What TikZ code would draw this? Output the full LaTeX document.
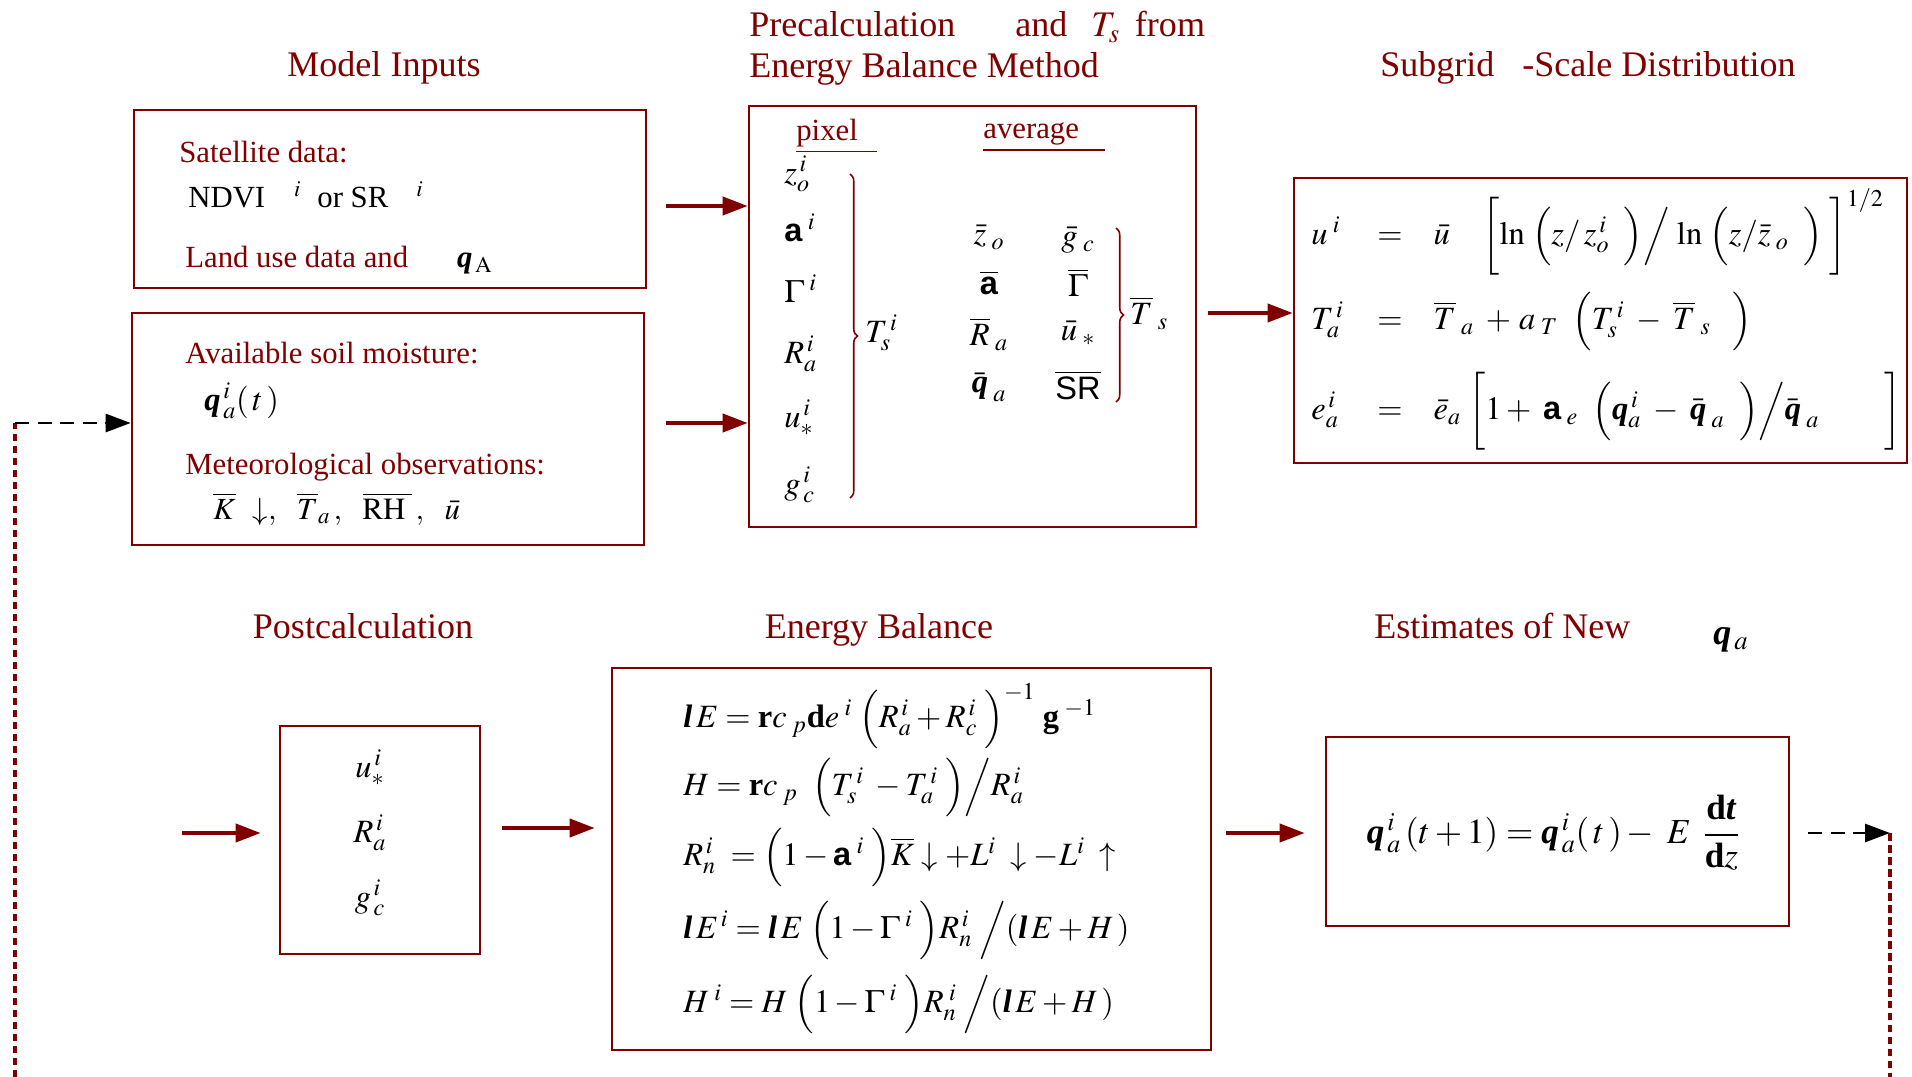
\documentclass[tikz,border=0pt]{standalone}
\usepackage{amsmath}
\usepackage{mathptmx}
\usepackage{fontspec}
\setmainfont{Liberation Serif}
\setsansfont{Liberation Sans}
\usetikzlibrary{arrows.meta,decorations.pathreplacing}
\definecolor{flowred}{HTML}{800000}
\newcommand{\bq}{\textbf{\textit{q}}}
\newcommand{\sfa}{\textsf{\textbf{a}}}
\newcommand{\bfl}{\textbf{\textit{l}}}
\newcommand{\eqlhs}[1]{\makebox[1.32cm][l]{$#1$}}
\tikzset{
  flow box/.style={
    rectangle, draw=flowred, line width=1.5pt, inner sep=0pt
  },
  flow title/.style={
    text=flowred, font=\fontsize{20.5}{24}\selectfont, inner sep=0pt
  },
  flow text/.style={font=\fontsize{17.5}{21}\selectfont, inner sep=0pt},
  flow label/.style={flow text, text=flowred},
  flow math/.style={font=\fontsize{18.5}{22}\selectfont, inner sep=0pt},
  flow arrow/.style={
    draw=flowred, line width=2.2pt,
    -{Triangle[length=0.5cm,width=0.36cm]}
  },
  feedback line/.style={
    draw=flowred, line width=2pt, dash pattern=on 0.15cm off 0.09cm
  },
  feedback arrow/.style={
    draw=black, line width=1.6pt, dash pattern=on 0.28cm off 0.17cm,
    -{Triangle[length=0.5cm,width=0.36cm]}
  },
  split brace/.style={
    draw=flowred, line width=0.9pt, decorate,
    decoration={brace, amplitude=0.15cm}
  }
}

\begin{document}
\begin{tikzpicture}
  \useasboundingbox (0,0) rectangle (38.24,-21.54);

  % titles
  \node[flow title, anchor=base] (intitle) at (7.68,-1.54) {Model Inputs};
  \node[flow title, anchor=base west] (pretitle) at (14.98,-0.74)
    {Precalculation\hspace{1.2cm}and\hspace{0.48cm}$T_{s}$\hspace{0.3cm}from};
  \node[flow title, anchor=base west] (pretitleb) at (14.98,-1.56) {Energy Balance Method};
  \node[flow title, anchor=base west] (subtitle) at (27.6,-1.54) {Subgrid\hspace{0.56cm}-Scale Distribution};
  \node[flow title, anchor=base] (posttitle) at (7.26,-12.76) {Postcalculation};
  \node[flow title, anchor=base] (ebtitle) at (17.58,-12.76) {Energy Balance};
  \node[flow title, anchor=base west] (newtitle) at (27.48,-12.76)
    {Estimates of New\hspace{1.66cm}\raisebox{-0.12cm}{\textcolor{black}{\bq$_{\,a}$}}};

  % boxes
  \node[flow box, minimum width=10.24cm, minimum height=3.56cm] (inputs) at (7.8,-3.98) {};
  \node[flow box, minimum width=10.24cm, minimum height=4.64cm] (soil) at (7.76,-8.58) {};
  \node[flow box, minimum width=8.94cm, minimum height=8.42cm] (pre) at (19.45,-6.33) {};
  \node[flow box, minimum width=12.26cm, minimum height=5.7cm] (sub) at (32.01,-6.41) {};
  \node[flow box, minimum width=4cm, minimum height=4.56cm] (post) at (7.6,-16.8) {};
  \node[flow box, minimum width=11.98cm, minimum height=7.64cm] (eb) at (18.23,-17.18) {};
  \node[flow box, minimum width=9.26cm, minimum height=3.78cm] (new) at (31.15,-16.63) {};

  % model inputs
  \node[flow label, anchor=base west] (satlabel) at (3.58,-3.26) {Satellite data:};
  \node[flow text, anchor=base west] (satdata) at (3.76,-4.16)
    {NDVI\hspace{0.58cm}$^{i}$\hspace{0.32cm}or SR\hspace{0.56cm}$^{i}$};
  \node[flow label, anchor=base west] (landlabel) at (3.7,-5.36)
    {Land use data and\hspace{0.98cm}\textcolor{black}{\bq$_{\,\mathrm{A}}$}};
  \node[flow label, anchor=base west] (soillabel) at (3.7,-7.26) {Available soil moisture:};
  \node[flow math, anchor=base west] (soildata) at (4.08,-8.2) {$\bq_{\,a}^{\,i}(\,t\,)$};
  \node[flow label, anchor=base west] (metlabel) at (3.7,-9.48) {Meteorological observations:};
  \node[flow text, anchor=base west] (metdata) at (4.26,-10.38)
    {$\overline{K}\;\,\downarrow,\;\;\,\overline{T}_{a}\,,\;\;\,\overline{\mathrm{RH}\;}\,,\;\;\,\bar{u}$};

  % precalculation
  \node[flow label, anchor=base west] (pixhead) at (15.92,-2.82) {\underline{pixel\hspace{0.38cm}}};
  \node[flow label, anchor=base west] (avghead) at (19.66,-2.78) {\underline{average\hspace{0.52cm}}};
  \node[flow math, anchor=west] (zpix) at (15.68,-3.48) {$z_o^{\,i}$};
  \node[flow math, anchor=west] (apix) at (15.68,-4.56) {$\sfa^{\;i}$};
  \node[flow math, anchor=west] (gpix) at (15.68,-5.78) {$\Gamma^{\;i}$};
  \node[flow math, anchor=west] (rpix) at (15.68,-7.08) {$R_a^{\,i}$};
  \node[flow math, anchor=west] (upix) at (15.68,-8.36) {$u_*^{\,i}$};
  \node[flow math, anchor=west] (cpix) at (15.68,-9.7) {$g_{\,c}^{\,i}$};
  \draw[split brace] (17.0,-3.48) -- (17.0,-9.96);
  \node[flow math, anchor=west] (tpix) at (17.3,-6.66) {$T_s^{\,i}$};

  \node[flow math] (zavg) at (19.78,-4.75) {$\bar{z}_{\;o}$};
  \node[flow math] (aavg) at (19.78,-5.65) {$\overline{\sfa}$};
  \node[flow math] (ravg) at (19.78,-6.68) {$\overline{R}_{\;a}$};
  \node[flow math] (qavg) at (19.78,-7.74) {$\bar{\bq}_{\;a}$};
  \node[flow math] (gavg) at (21.56,-4.8) {$\bar{g}_{\;c}$};
  \node[flow math] (Gavg) at (21.56,-5.65) {$\overline{\Gamma}$};
  \node[flow math] (uavg) at (21.56,-6.66) {$\bar{u}_{\;*}$};
  \node[flow math] (savg) at (21.56,-7.7) {$\overline{\textsf{SR}}$};
  \draw[split brace] (22.32,-4.56) -- (22.32,-8.04);
  \node[flow math, anchor=west] (tavg) at (22.6,-6.26) {$\overline{T}_{\;s}$};

  % subgrid distribution
  \node[flow math, anchor=west] (subu) at (26.22,-4.64)
    {\eqlhs{u^{\;i}}$=$\hspace{0.62cm}$\bar{u}\quad\biggl[\ln\;\Bigl(z/\,z_o^{\,i}\;\;\Bigr)\Big/\,\ln\;\Bigl(z/\bar{z}_{\;o}\;\;\Bigr)\;\biggr]^{1/2}$};
  \node[flow math, anchor=west] (subt) at (26.22,-6.42)
    {\eqlhs{T_a^{\,i}}$=$\hspace{0.62cm}$\overline{T}_{\;a}\;+\,a_{\;T}\;\;\Bigl(T_s^{\,i}\;-\;\overline{T}_{\;s}\;\;\;\Bigr)$};
  \node[flow math, anchor=west] (sube) at (26.22,-8.22)
    {\eqlhs{e_a^{\,i}}$=$\hspace{0.62cm}$\bar{e}_a\;\biggl[1 + \;\sfa_{\;e}\;\;\Bigl(\bq_a^{\,i}\;-\;\bar{\bq}_{\;a}\;\;\Bigr)\Big/\bar{\bq}_{\;a}\qquad\biggr]$};

  % postcalculation
  \node[flow math] (postu) at (7.4,-15.36) {$u_*^{\,i}$};
  \node[flow math] (postr) at (7.4,-16.66) {$R_a^{\,i}$};
  \node[flow math] (postg) at (7.4,-17.96) {$g_{\,c}^{\,i}$};

  % energy balance
  \node[flow math, anchor=west] (ebl) at (13.66,-14.32)
    {$\bfl\,E = \textbf{r}c_{\;p}\textbf{d}e^{\;i}\;\Bigl(R_a^{\,i} + R_c^{\,i}\;\Bigr)^{-1}\;\textbf{g}^{\;-1}$};
  \node[flow math, anchor=west] (ebh) at (13.66,-15.74)
    {$H = \textbf{r}c_{\;p}\;\;\Bigl(T_s^{\,i}\; - T_a^{\,i}\;\Bigr)\Big/R_a^{\,i}$};
  \node[flow math, anchor=west] (ebr) at (13.66,-17.14)
    {$R_n^{\,i}\; = \Bigl(1 - \sfa^{\;i}\;\Bigr)\overline{K}\downarrow + L^{i}\;\downarrow - L^{i}\;\uparrow$};
  \node[flow math, anchor=west] (ebli) at (13.66,-18.6)
    {$\bfl\,E^{\,i} = \bfl\,E\;\Bigl(1 - \Gamma^{\;i}\;\Bigr)R_n^{\,i}\;\Big/(\bfl\,E + H\,)$};
  \node[flow math, anchor=west] (ebhi) at (13.66,-20.08)
    {$H^{\;i} = H\;\Bigl(1 - \Gamma^{\;i}\;\Bigr)R_n^{\;i}\;\Big/(\bfl\,E + H\,)$};

  % new soil moisture
  \node[flow math, font=\fontsize{20}{24}\selectfont] (newq) at (31.07,-16.66)
    {$\bq_{\,a}^{\,i}\,(t + 1) = \bq_{\,a}^{\,i}(\,t\,) - \;E\;\,\dfrac{\textbf{d}\textbf{\textit{t}}}{\textbf{d}z}$};

  % connectors
  \draw[flow arrow, shorten <=0.38cm] (inputs.east |- 0,-4.12) -- (pre.west |- 0,-4.12);
  \draw[flow arrow, shorten <=0.42cm] (soil.east |- 0,-8.46) -- (pre.west |- 0,-8.46);
  \draw[flow arrow, shorten <=0.22cm] (pre.east |- 0,-6.26) -- (sub.west |- 0,-6.26);
  \coordinate (postin) at (3.64,-16.66);
  \draw[flow arrow, shorten >=0.36cm] (postin) -- (postin -| post.west);
  \draw[flow arrow, shorten <=0.42cm, shorten >=0.32cm] (post.east |- 0,-16.56) -- (eb.west |- 0,-16.56);
  \draw[flow arrow, shorten <=0.28cm, shorten >=0.4cm] (eb.east |- 0,-16.66) -- (new.west |- 0,-16.66);

  % feedback loop
  \coordinate (fbright) at (37.8,-16.66);
  \coordinate (fbrightend) at (37.8,-21.54);
  \coordinate (fbleftend) at (0.3,-21.54);
  \coordinate (fbleft) at (0.3,-8.46);
  \draw[feedback arrow, shorten <=0.36cm] (new.east |- fbright) -- (fbright);
  \draw[feedback line] (fbright) -- (fbrightend);
  \draw[feedback line] (fbleftend) -- (fbleft);
  \draw[feedback arrow] (fbleft) -- (fbleft -| soil.west);
\end{tikzpicture}
\end{document}
